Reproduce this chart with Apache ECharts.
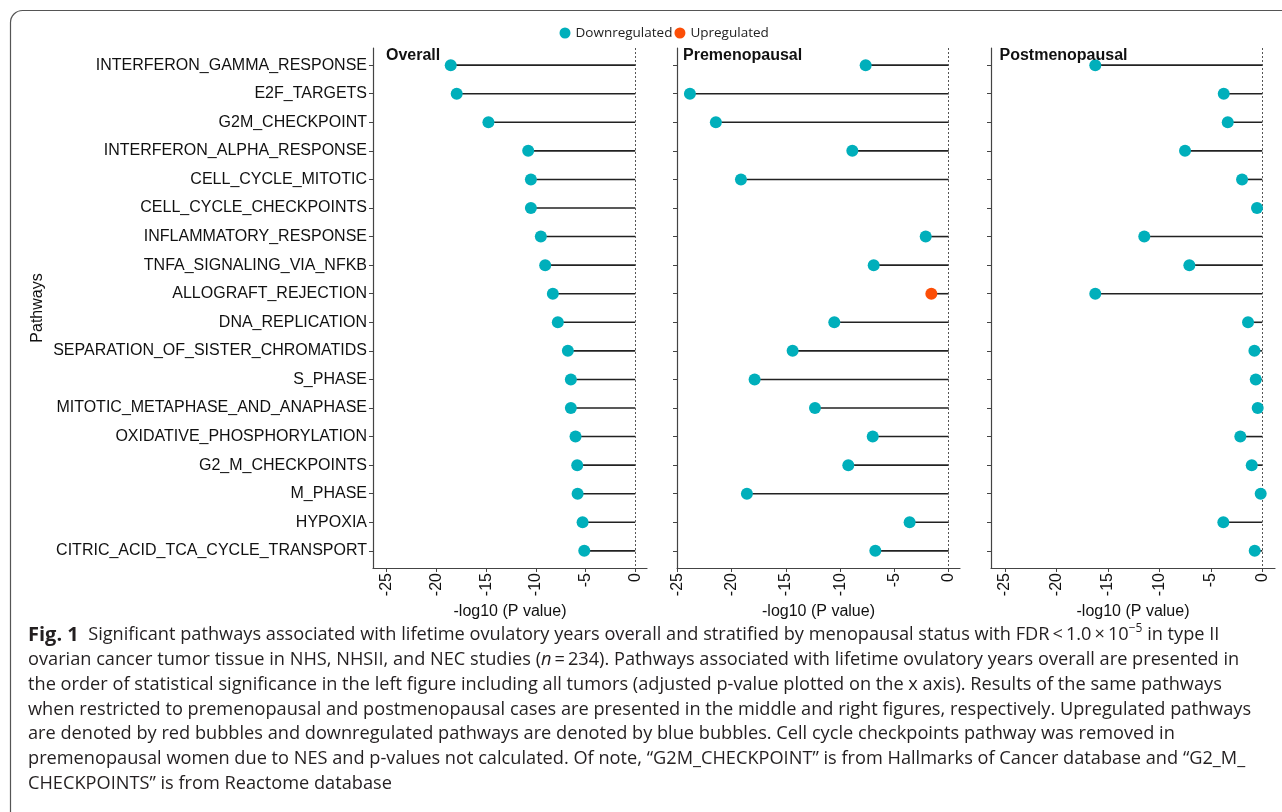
<!DOCTYPE html>
<html><head><meta charset="utf-8">
<script src="https://cdn.jsdelivr.net/npm/echarts@6/dist/echarts.min.js"></script>
<style>html,body{margin:0;padding:0;background:#fff}#c{width:1282px;height:812px}</style>
</head><body><div id="c"></div>
<script>
const categories = ['INTERFERON_GAMMA_RESPONSE','E2F_TARGETS','G2M_CHECKPOINT','INTERFERON_ALPHA_RESPONSE','CELL_CYCLE_MITOTIC','CELL_CYCLE_CHECKPOINTS','INFLAMMATORY_RESPONSE','TNFA_SIGNALING_VIA_NFKB','ALLOGRAFT_REJECTION','DNA_REPLICATION','SEPARATION_OF_SISTER_CHROMATIDS','S_PHASE','MITOTIC_METAPHASE_AND_ANAPHASE','OXIDATIVE_PHOSPHORYLATION','G2_M_CHECKPOINTS','M_PHASE','HYPOXIA','CITRIC_ACID_TCA_CYCLE_TRANSPORT'];
const overallValues = [-18.56,-17.96,-14.77,-10.77,-10.5,-10.5,-9.5,-9.06,-8.29,-7.79,-6.78,-6.48,-6.48,-6.01,-5.84,-5.8,-5.3,-5.13];
const preValues = [-7.65,-23.84,-21.45,-8.88,-19.14,null,-2.12,-6.91,-1.6,-10.54,-14.38,-17.88,-12.32,-7.0,-9.25,-18.59,-3.6,-6.76];
const postValues = [-16.23,-3.75,-3.36,-7.51,-1.97,-0.52,-11.47,-7.09,-16.23,-1.39,-0.77,-0.64,-0.45,-2.14,-1.03,-0.16,-3.79,-0.74];
const overallDirection = ['D','D','D','D','D','D','D','D','D','D','D','D','D','D','D','D','D','D'];
const preDirection = ['D','D','D','D','D',null,'D','D','U','D','D','D','D','D','D','D','D','D'];
const postDirection = ['D','D','D','D','D','D','D','D','D','D','D','D','D','D','D','D','D','D'];
const xTicks = [-25,-20,-15,-10,-5,0];
const panelTitles = ['Overall','Premenopausal','Postmenopausal'];
const legendNames = ['Downregulated','Upregulated'];
const xAxisTitle = '-log10 (P value)';
const yAxisTitle = 'Pathways';
const captionLines = [
  '{b|Fig. 1}  Significant pathways associated with lifetime ovulatory years overall and stratified by menopausal status with FDR\u2009<\u20091.0\u2009\u00d7\u200910{sup|\u22125} in type II',
  'ovarian cancer tumor tissue in NHS, NHSII, and NEC studies ({i|n}\u2009=\u2009234). Pathways associated with lifetime ovulatory years overall are presented in',
  'the order of statistical significance in the left figure including all tumors (adjusted p-value plotted on the x axis). Results of the same pathways',
  'when restricted to premenopausal and postmenopausal cases are presented in the middle and right figures, respectively. Upregulated pathways',
  'are denoted by red bubbles and downregulated pathways are denoted by blue bubbles. Cell cycle checkpoints pathway was removed in',
  'premenopausal women due to NES and p-values not calculated. Of note, \u201cG2M_CHECKPOINT\u201d is from Hallmarks of Cancer database and \u201cG2_M_',
  'CHECKPOINTS\u201d is from Reactome database'
];

const COLORS = {D:'#00AFBB', U:'#FC4E07'};
const AXIS = '#444';
const TXT = '#111';
const FONT = '"Liberation Sans", Arial, sans-serif';
const CAPFONT = '"Open Sans", "Noto Sans", sans-serif';
const grids = [
  {left:373, top:48, width:274, height:520},
  {left:677, top:48, width:283, height:520},
  {left:991, top:48, width:284, height:520}
];
const xRanges = [[-26.38,1.18],[-25.03,1.04],[-26.36,1.23]];
const titleLefts = [386, 683, 999.5];
const idx = categories.map((c,i)=>i);

const panels = [[overallValues,overallDirection],[preValues,preDirection],[postValues,postDirection]];

const xAxes = grids.map((g,p)=>({
  type:'value', gridIndex:p, min:xRanges[p][0], max:xRanges[p][1],
  splitLine:{show:false},
  axisLine:{show:true, onZero:false, lineStyle:{color:AXIS, width:1.2}},
  axisTick:{show:true, length:4, customValues:xTicks, lineStyle:{color:AXIS}},
  axisLabel:{customValues:xTicks, rotate:90, margin:5, fontSize:16, fontFamily:FONT, color:TXT},
  name:xAxisTitle, nameLocation:'middle', nameGap:23,
  nameTextStyle:{fontSize:16, fontFamily:FONT, color:TXT}
}));
const yAxes = grids.map((g,p)=>({
  type:'value', gridIndex:p, min:-0.6, max:17.6, inverse:true,
  splitLine:{show:false},
  axisLine:{show:true, onZero:false, lineStyle:{color:AXIS, width:1.2}},
  axisTick:{show:true, length:4, customValues:idx, lineStyle:{color:AXIS}},
  axisLabel:{show:p===0, customValues:idx, margin:6, fontSize:16, fontFamily:FONT, color:TXT,
    formatter:(v)=>categories[Math.round(v)]},
  name: p===0 ? yAxisTitle : '', nameLocation:'middle', nameGap:327,
  nameTextStyle:{fontSize:16, fontFamily:FONT, color:TXT}
}));

const series = [];
panels.forEach(([vals,dirs],p)=>{
  const segData = [];
  vals.forEach((v,i)=>{ if(v!=null) segData.push([v,i]); });
  series.push({
    type:'custom', xAxisIndex:p, yAxisIndex:p, silent:true, z:2,
    data:segData,
    renderItem:(params,api)=>{
      const s = api.coord([0, api.value(1)]);
      const e = api.coord([api.value(0), api.value(1)]);
      return {type:'line', shape:{x1:s[0],y1:s[1],x2:e[0],y2:e[1]}, style:{stroke:'#222', lineWidth:1.6}};
    },
    markLine:{silent:true, symbol:'none', label:{show:false},
      lineStyle:{color:'#555', type:[2,2], width:1},
      data:[{xAxis:0}]}
  });
  ['D','U'].forEach((d,k)=>{
    const data = [];
    vals.forEach((v,i)=>{ if(v!=null && dirs[i]===d) data.push([v,i]); });
    series.push({
      type:'scatter', name:legendNames[k], xAxisIndex:p, yAxisIndex:p, z:5,
      symbol:'circle', symbolSize:12, itemStyle:{color:COLORS[d], opacity:1},
      data:data
    });
  });
});

const graphics = [
  {type:'rect', shape:{x:10.5, y:10.5, width:1300, height:830, r:12}, style:{fill:'none', stroke:'#555', lineWidth:1.2}, z:-1}
];
const firstMid = 635, lineStep = 24.8, capSize = 18.2;
captionLines.forEach((t,i)=>{
  graphics.push({type:'text', x:28, y: firstMid + i*lineStep,
    style:{text:t, x:0, y:0, verticalAlign:'middle', align:'left', fontSize:capSize, lineHeight:24, fontFamily:CAPFONT, fill:'#231f20',
      rich:{
        b:{fontWeight:'bold', fontSize:20, lineHeight:24, fontFamily:CAPFONT, fill:'#231f20'},
        i:{fontStyle:'italic', fontSize:capSize, lineHeight:24, fontFamily:CAPFONT, fill:'#231f20'},
        sup:{fontSize:12, lineHeight:12, fontFamily:CAPFONT, fill:'#231f20', verticalAlign:'top'}
      }}});
});

const chart = echarts.init(document.getElementById('c'), null, {renderer:'canvas'});
chart.setOption({
  backgroundColor:'#fff',
  animation:false,
  title: panelTitles.map((t,p)=>({text:t, left:titleLefts[p], top:48, padding:0,
    textStyle:{fontFamily:FONT, fontWeight:'bold', fontSize:16, color:TXT}})),
  legend:{data:legendNames, left:559.5, top:26, padding:0, icon:'circle', itemWidth:11, itemHeight:11, itemGap:2,
    textStyle:{fontFamily:CAPFONT, fontSize:13.5, color:'#222'}},
  grid: grids,
  xAxis: xAxes,
  yAxis: yAxes,
  series: series,
  graphic: graphics
});
</script></body></html>
